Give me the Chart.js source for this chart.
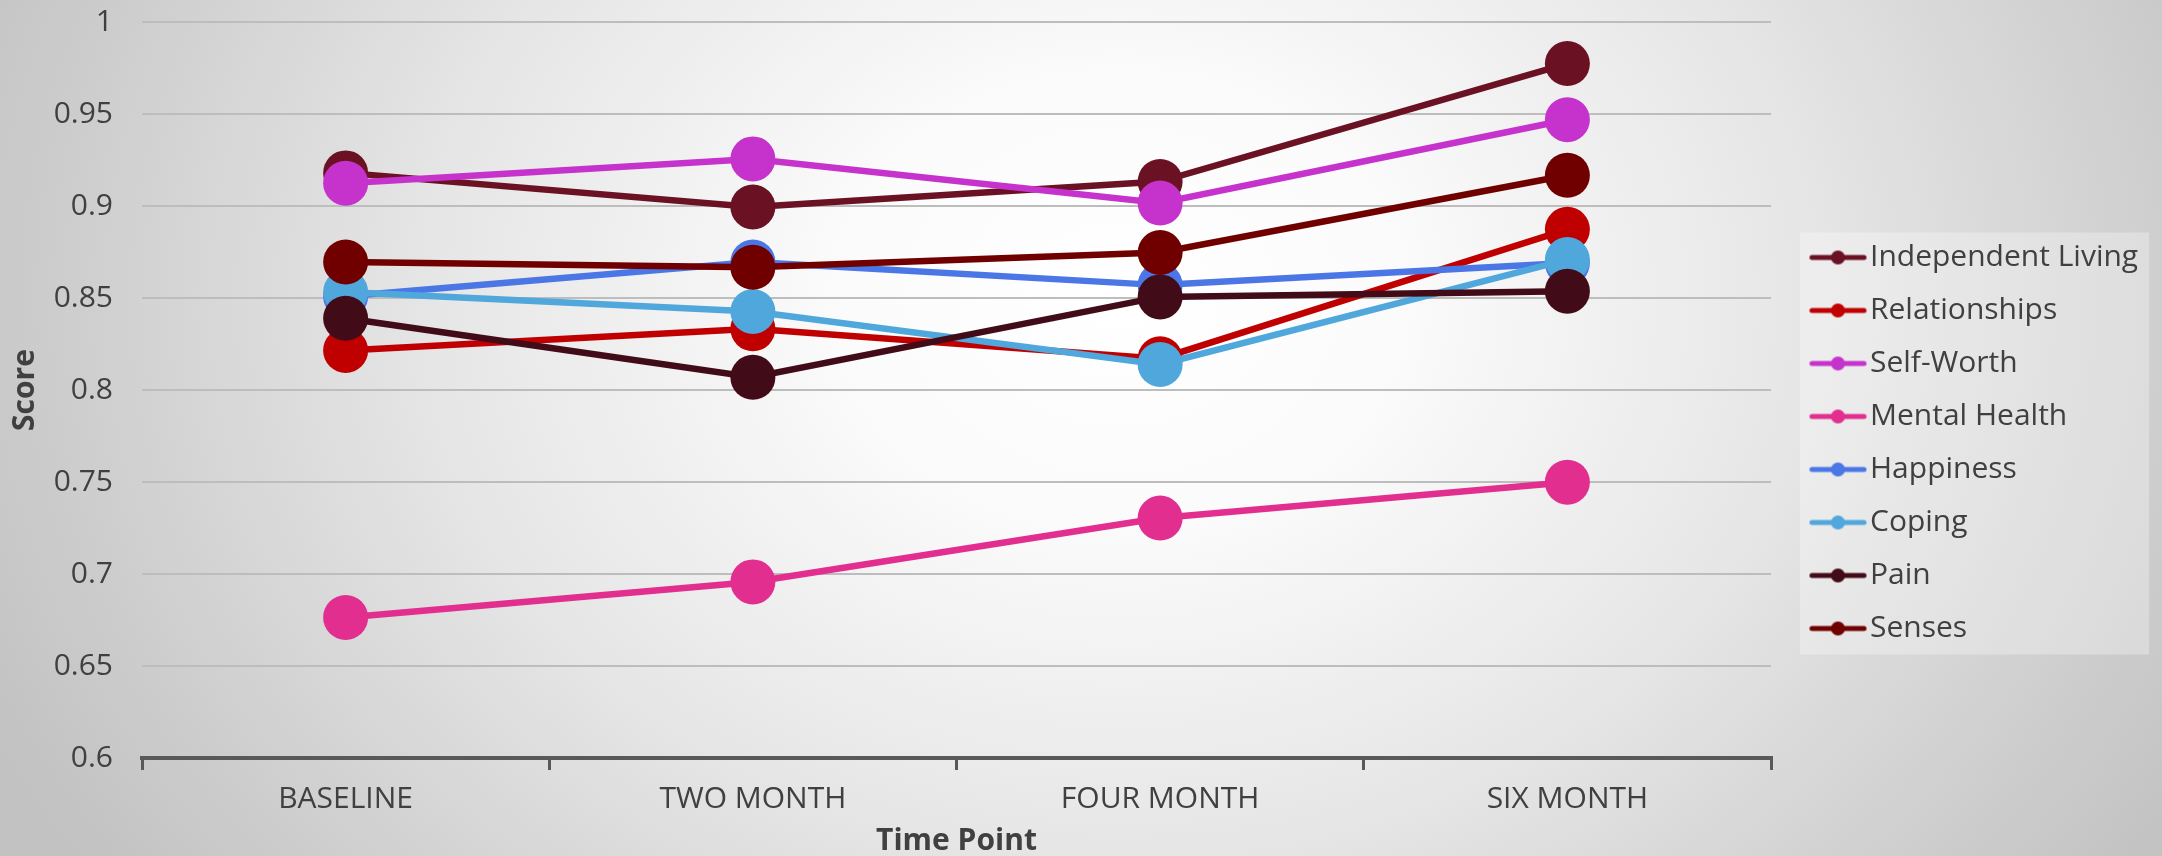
<!DOCTYPE html>
<html>
<head>
<meta charset="utf-8">
<title>Score by Time Point</title>
<script src="https://cdn.jsdelivr.net/npm/chart.js@4.4.1/dist/chart.umd.min.js"></script>
<style>
  html, body { margin: 0; padding: 0; }
  body {
    width: 2162px; height: 856px; overflow: hidden;
    background: radial-gradient(ellipse 1250px 1000px at 1120px 300px, #ffffff 0%, #fbfbfb 22%, #e6e6e6 55%, #cdcdcd 85%, #c2c2c2 100%);
  }
  #wrap { position: relative; width: 2162px; height: 856px; }
</style>
</head>
<body>
<div id="wrap"><canvas id="chart" width="2162" height="856"></canvas></div>
<script>
// Time points on the x axis
const timePoints = ['BASELINE', 'TWO MONTH', 'FOUR MONTH', 'SIX MONTH'];

// Mean domain scores at each time point
const independentLiving = [0.918, 0.8995, 0.9133, 0.9774];
const relationships     = [0.8215, 0.8333, 0.817, 0.8873];
const selfWorth         = [0.9124, 0.9256, 0.9016, 0.9469];
const mentalHealth      = [0.6764, 0.6957, 0.7304, 0.7499];
const happiness         = [0.851, 0.8695, 0.857, 0.869];
const coping            = [0.8533, 0.8427, 0.8139, 0.8709];
const pain              = [0.839, 0.8069, 0.8506, 0.8537];
const senses            = [0.8696, 0.8667, 0.8747, 0.9167];

const seriesNames  = ['Independent Living', 'Relationships', 'Self-Worth', 'Mental Health', 'Happiness', 'Coping', 'Pain', 'Senses'];
const seriesValues = [independentLiving, relationships, selfWorth, mentalHealth, happiness, coping, pain, senses];
const seriesColors = ['#6b1124', '#c00000', '#c633cc', '#e22e8f', '#4a76e6', '#50a7dc', '#420b18', '#700000'];

// Y axis range and step
const yMin = 0.6, yMax = 1, yStep = 0.05;

const FONT = "'Open Sans', 'Noto Sans', 'Liberation Sans', sans-serif";
const TEXT = '#404040';
const FS = 30;

// Legend marker: a short line with a dot, on a wider transparent canvas so
// that it sits close to its label.
const LEGEND_BOX = 61;
function legendMarker(color) {
  const c = document.createElement('canvas');
  c.width = 96; c.height = 20;
  const g = c.getContext('2d');
  const a = LEGEND_BOX / 2 + 3;
  g.strokeStyle = color; g.lineWidth = 5; g.lineCap = 'round';
  g.beginPath(); g.moveTo(a + 2, 10); g.lineTo(a + 54, 10); g.stroke();
  g.fillStyle = color;
  g.beginPath(); g.arc(a + 28, 10, 7, 0, Math.PI * 2); g.fill();
  return c;
}
const markers = seriesColors.map(legendMarker);

// Space to the right of the legend so the plot ends at the same place
const probe = document.createElement('canvas').getContext('2d');
probe.font = FS + 'px ' + FONT;
const longest = Math.max(...seriesNames.map(n => probe.measureText(n).width));
const LEG_PAD = 23;
const legendWidth = LEG_PAD + LEGEND_BOX + FS / 2 + longest + 10;
const PLOT_RIGHT = 1771;
const rightPad = Math.max(0, 2162 - PLOT_RIGHT - legendWidth);

// Light panel behind the legend entries
const legendPanel = {
  id: 'legendPanel',
  beforeDraw(chart) {
    const boxes = chart.legend && chart.legend.legendHitBoxes;
    if (!boxes || !boxes.length) return;
    const l = Math.min(...boxes.map(b => b.left));
    const t = Math.min(...boxes.map(b => b.top));
    const r = Math.max(...boxes.map(b => b.left + b.width));
    const bt = Math.max(...boxes.map(b => b.top + b.height));
    const ctx = chart.ctx;
    ctx.save();
    ctx.fillStyle = 'rgba(255,255,255,0.3)';
    ctx.fillRect(l + 6, t - 10, (r + 11) - (l + 6), (bt + 11) - (t - 10));
    ctx.restore();
  }
};

const datasets = seriesNames.map((name, i) => ({
  label: name,
  data: seriesValues[i],
  borderColor: seriesColors[i],
  backgroundColor: seriesColors[i],
  pointBackgroundColor: seriesColors[i],
  pointBorderColor: seriesColors[i],
  pointBorderWidth: 0,
  pointRadius: 22.5,
  pointHoverRadius: 22.5,
  pointStyle: 'circle',
  borderWidth: 6.5,
  tension: 0,
  fill: false,
  clip: false,
  order: seriesNames.length - i
}));

new Chart(document.getElementById('chart'), {
  type: 'line',
  data: { labels: timePoints, datasets },
  plugins: [legendPanel],
  options: {
    responsive: false,
    animation: false,
    devicePixelRatio: 1,
    layout: { autoPadding: false, padding: { top: 22, right: rightPad, bottom: 0, left: 0 } },
    plugins: {
      tooltip: { enabled: false },
      legend: {
        position: 'right',
        align: 'center',
        title: { display: true, text: ' ', font: { size: 4, lineHeight: 1 }, padding: { top: 2, bottom: 2 } },
        labels: {
          usePointStyle: true,
          pointStyleWidth: LEGEND_BOX,
          padding: LEG_PAD,
          color: TEXT,
          font: { family: FONT, size: FS },
          sort: (a, b) => a.datasetIndex - b.datasetIndex,
          generateLabels(chart) {
            return chart.data.datasets.map((ds, i) => ({
              text: ds.label,
              fillStyle: ds.borderColor,
              strokeStyle: ds.borderColor,
              lineWidth: 0,
              pointStyle: markers[i],
              hidden: false,
              datasetIndex: i,
              fontColor: TEXT
            }));
          }
        }
      }
    },
    scales: {
      x: {
        type: 'category',
        offset: true,
        grid: {
          display: true,
          drawOnChartArea: false,
          drawTicks: true,
          tickLength: 12,
          color: '#595959',
          lineWidth: 3,
          offset: true
        },
        border: { display: true, color: '#595959', width: 4 },
        ticks: { color: TEXT, font: { family: FONT, size: FS }, padding: 11, maxRotation: 0 },
        title: {
          display: true,
          text: 'Time Point',
          color: TEXT,
          font: { family: FONT, size: FS, weight: 'bold', lineHeight: 1 },
          padding: { top: 0, bottom: 0 }
        },
        afterFit(scale) { scale.height = 856 - 758; }
      },
      y: {
        min: yMin,
        max: yMax,
        grid: {
          display: true,
          drawTicks: true,
          tickLength: 29,
          tickColor: 'rgba(0,0,0,0)',
          color: '#bdbdbd',
          lineWidth: 2
        },
        border: { display: false },
        ticks: {
          stepSize: yStep,
          color: TEXT,
          font: { family: FONT, size: FS },
          padding: 0,
          callback: v => String(+Number(v).toFixed(2))
        },
        title: {
          display: true,
          text: 'Score',
          color: TEXT,
          font: { family: FONT, size: FS, weight: 'bold', lineHeight: 1.2 },
          padding: { top: 7, bottom: 0 }
        },
        afterFit(scale) { scale.width = 142; }
      }
    }
  }
});
</script>
</body>
</html>
